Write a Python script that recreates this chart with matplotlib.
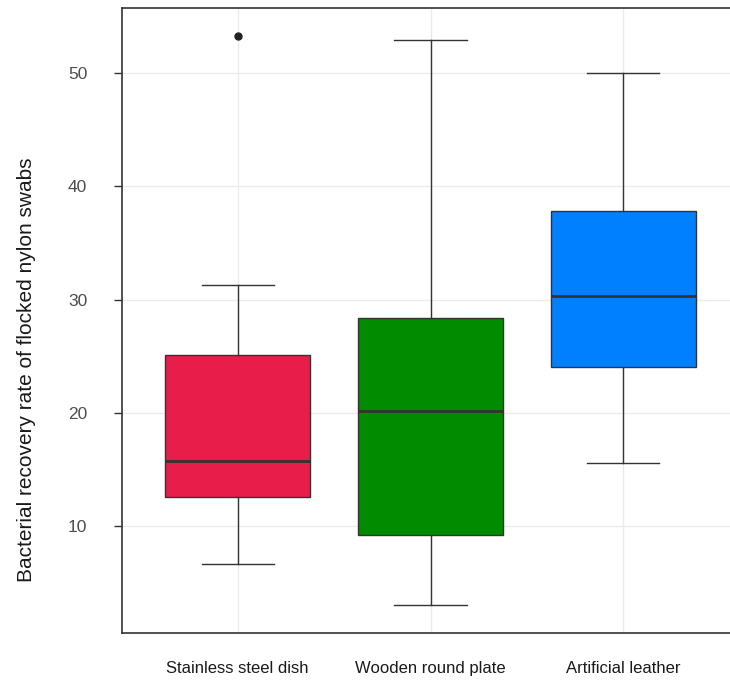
import matplotlib
matplotlib.use("Agg")
import matplotlib.pyplot as plt

# values
categories = ["Stainless steel dish", "Wooden round plate", "Artificial leather"]
whisker_low = [6.66, 3.05, 15.58]
q1 = [12.58, 9.22, 24.05]
median = [15.75, 20.17, 30.32]
q3 = [25.11, 28.38, 37.82]
whisker_high = [31.29, 52.91, 50.0]
outliers = [[53.27], [], []]
fill_colors = ["#E91D4A", "#008B00", "#0080FF"]

plt.rcParams["font.family"] = ["Liberation Sans", "DejaVu Sans"]

fig = plt.figure(figsize=(7.30, 6.82), dpi=100)
ax = fig.add_axes([122 / 730, 49 / 682, 617 / 730, 625 / 682])

stats = []
for i, name in enumerate(categories):
    stats.append({
        "label": name,
        "whislo": whisker_low[i],
        "q1": q1[i],
        "med": median[i],
        "q3": q3[i],
        "whishi": whisker_high[i],
        "fliers": outliers[i],
    })

edge = "#333333"
bp = ax.bxp(
    stats,
    positions=[1, 2, 3],
    widths=0.75,
    capwidths=0.375,
    patch_artist=True,
    boxprops=dict(edgecolor=edge, linewidth=1.0),
    medianprops=dict(color=edge, linewidth=2.0),
    whiskerprops=dict(color=edge, linewidth=1.0),
    capprops=dict(color=edge, linewidth=1.0),
    flierprops=dict(marker="o", markersize=5, markerfacecolor="#222222",
                    markeredgecolor="#222222"),
    zorder=3,
)
for patch, c in zip(bp["boxes"], fill_colors):
    patch.set_facecolor(c)

ax.set_xlim(0.4, 3.6)
ax.set_ylim(0.57, 55.74)
ax.set_yticks([10, 20, 30, 40, 50])
ax.set_xticks([1, 2, 3])
ax.set_xticklabels(categories)

ax.grid(True, color="#EBEBEB", linewidth=1.0, zorder=0)
ax.set_axisbelow(True)
for side in ax.spines.values():
    side.set_color("#333333")
    side.set_linewidth(1.2)

ax.tick_params(axis="y", length=6, width=1, color="#333333", labelsize=12.5,
               labelcolor="#4D4D4D", pad=19)
ax.tick_params(axis="x", length=0, labelsize=12, labelcolor="#1A1A1A", pad=20)

fig.text(27 / 730, 1 - 370 / 682, "Bacterial recovery rate of flocked nylon swabs",
         rotation=90, ha="center", va="center", fontsize=15, color="#1A1A1A")

fig.savefig("out.png", dpi=100, facecolor="white")
